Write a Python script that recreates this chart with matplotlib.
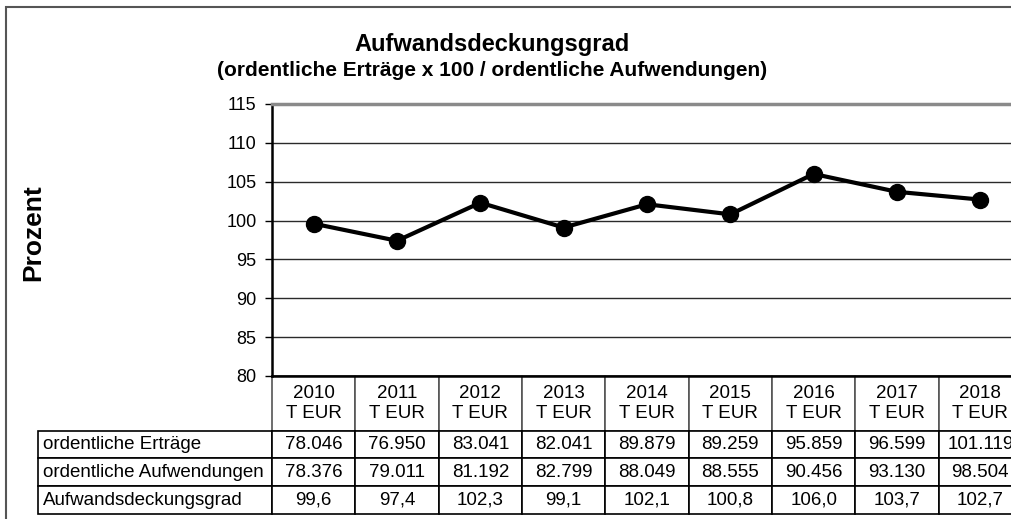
import matplotlib
matplotlib.use('Agg')
import matplotlib.pyplot as plt
import matplotlib.patches as patches
from matplotlib.table import Table
import numpy as np

plt.rcParams['font.family'] = ['Liberation Sans', 'DejaVu Sans']

years = [2010, 2011, 2012, 2013, 2014, 2015, 2016, 2017, 2018]
ertraege = [78046, 76950, 83041, 82041, 89879, 89259, 95859, 96599, 101119]
aufwendungen = [78376, 79011, 81192, 82799, 88049, 88555, 90456, 93130, 98504]
grad = [99.6, 97.4, 102.3, 99.1, 102.1, 100.8, 106.0, 103.7, 102.7]
row_labels = ['ordentliche Erträge', 'ordentliche Aufwendungen', 'Aufwandsdeckungsgrad']


def teur(v):
    return f"{v:,}".replace(",", ".")


def pct(v):
    return f"{v:.1f}".replace(".", ",")


W, H = 1011, 519
fig = plt.figure(figsize=(W / 100, H / 100), dpi=100)

# outer frame of the original chart (runs off right/bottom)
fig.patches.append(patches.Rectangle((6 / W, -0.1), 1.2, 1 - 7 / H + 0.1,
                                     transform=fig.transFigure, fill=False,
                                     edgecolor='#555555', lw=1.5))

# plot area: right edge is cut off by the image
left, right, top, bottom = 272, 1022, 104, 376
ax = fig.add_axes([left / W, 1 - bottom / H, (right - left) / W, (bottom - top) / H])

x = np.arange(len(years)) + 0.5
ax.plot(x, grad, color='black', lw=3, marker='o', ms=11.5, zorder=3, clip_on=False)

ax.set_xlim(0, len(years))
ax.set_ylim(80, 115)
ax.set_yticks(np.arange(80, 116, 5))
ax.set_xticks([])
ax.tick_params(axis='y', labelsize=13, length=5, width=1, direction='out', pad=6)
ax.set_axisbelow(True)
ax.yaxis.grid(True, color='#2a2a2a', lw=1.0)
ax.spines['top'].set_color('#8a8a8a')
ax.spines['top'].set_linewidth(2.5)
ax.spines['left'].set_linewidth(1.8)
ax.spines['bottom'].set_linewidth(1.8)
ax.spines['right'].set_visible(False)

# data table under the axis
label_w = (left - 38) / (right - left) * len(years)
tbl = Table(ax, bbox=[(38 - left) / (right - left), -(514 - bottom) / (bottom - top),
                      (right - 38) / (right - left), (514 - bottom) / (bottom - top)])
head_h, row_h = 55, 28
for j, yr in enumerate(years):
    c = tbl.add_cell(0, j + 1, 1, head_h, text=f"{yr}\nT EUR", loc='center')
    c.set_edgecolor('#555555')
rows = [[teur(v) for v in ertraege], [teur(v) for v in aufwendungen], [pct(v) for v in grad]]
for i, (lab, vals) in enumerate(zip(row_labels, rows)):
    c = tbl.add_cell(i + 1, 0, label_w, row_h, text=lab, loc='left')
    c.PAD = 0.02
    for j, v in enumerate(vals):
        tbl.add_cell(i + 1, j + 1, 1, row_h, text=v, loc='center')
tbl.auto_set_font_size(False)
tbl.set_fontsize(13.5)
for cell in tbl.get_celld().values():
    cell.set_linewidth(1.2)
ax.add_table(tbl)

fig.text(492 / W, 1 - 44 / H, 'Aufwandsdeckungsgrad', ha='center', va='center',
         fontsize=17, fontweight='bold')
fig.text(492 / W, 1 - 71 / H, '(ordentliche Erträge x 100 / ordentliche Aufwendungen)',
         ha='center', va='center', fontsize=15, fontweight='bold')
fig.text(33 / W, 1 - 233 / H, 'Prozent', rotation=90, ha='center', va='center',
         fontsize=19, fontweight='bold')

fig.savefig('out.png', dpi=100)
